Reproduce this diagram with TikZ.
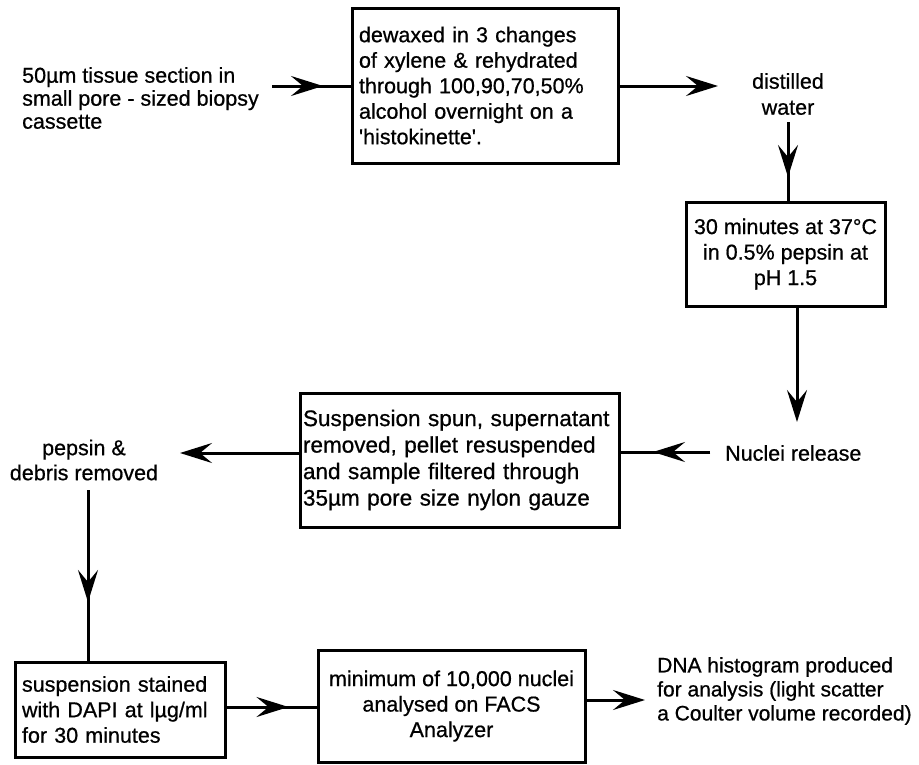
\documentclass[tikz,border=0pt]{standalone}
\usepackage{fontspec}
\setmainfont{Liberation Sans}[Ligatures=TeXOff, FakeBold=0.7]
\usetikzlibrary{arrows.meta,calc}
\begin{document}
\begin{tikzpicture}[x=1pt,y=-1pt,
  box/.style={draw, line width=3pt, inner sep=0pt, font=\fontsize{21.5}{25.5}\selectfont},
  lbl/.style={inner sep=0pt, font=\fontsize{21.5}{24}\selectfont},
  conn/.style={line width=3pt},
  tip/.style={line width=3pt, -{Stealth[length=32pt,width=20pt,inset=12pt]}}]
\useasboundingbox (0,0) rectangle (919,764);
\fill[white] (0,0) rectangle (919,764);

% boxes
\node[box, minimum width=266pt, minimum height=155pt, text width=252pt, align=left] (b1) at (485,85.5)
  {dewaxed in 3 changes\\of xylene \& rehydrated\\through 100,90,70,50\%\\alcohol overnight on a\\'histokinette'.};
\node[box, minimum width=199pt, minimum height=104pt, align=center] (b2) at (785.5,254)
  {30 minutes at 37°C\\in 0.5\% pepsin at\\pH 1.5};
\node[box, minimum width=319pt, minimum height=134pt, text width=313pt, align=left,
      font=\fontsize{22.5}{26.5}\selectfont] (b3) at (459.5,460)
  {Suspension spun, supernatant\\removed, pellet resuspended\\and sample filtered through\\35µm pore size nylon gauze};
\node[box, minimum width=210pt, minimum height=95pt, text width=196pt, align=left] (b4) at (120,709.5)
  {suspension stained\\with DAPI at lµg/ml\\for 30 minutes};
\node[box, minimum width=267pt, minimum height=112pt, align=center] (b5) at (451.5,706)
  {minimum of 10,000 nuclei\\analysed on FACS\\Analyzer};

% free labels
\node[lbl, anchor=west, align=left, font=\fontsize{21.5}{23}\selectfont] (t1) at (22,98)
  {50µm tissue section in\\small pore - sized biopsy\\cassette};
\node[lbl, align=center, font=\fontsize{21.5}{26}\selectfont] (t2) at (788,94) {distilled\\water};
\node[lbl, anchor=west] (t3) at (725,453) {Nuclei release};
\node[lbl, align=center, font=\fontsize{21.5}{25}\selectfont] (t4) at (84,460) {pepsin \&\\debris removed};
\node[lbl, anchor=west, align=left, font=\fontsize{21}{24}\selectfont] (t5) at (657,691)
  {DNA histogram produced\\for analysis (light scatter\\a Coulter volume recorded)};

% connectors
\coordinate (a1) at (272,86);
\draw[conn] (a1) -- (a1 -| b1.west);
\draw[tip] (a1) -- ++(51,0);

\coordinate (a2) at (718,86);
\draw[tip] (b1.east |- a2) -- (a2);

\coordinate (a3) at (788,122);
\draw[conn] (a3) -- (a3 |- b2.north);
\draw[tip] (a3) -- ++(0,55);

\coordinate (a4) at (797,422);
\draw[tip] (a4 |- b2.south) -- (a4);

\coordinate (a5) at (710,452);
\draw[conn] (a5) -- (a5 -| b3.east);
\draw[tip] (a5) -- ++(-57,0);

\coordinate (a6) at (180,453);
\draw[tip] (a6 -| b3.west) -- (a6);

\coordinate (a7) at (88,490);
\draw[conn] (a7) -- (a7 |- b4.north);
\draw[tip] (a7) -- ++(0,112);

\coordinate (a8) at (0,707);
\draw[conn] (b4.east |- a8) -- (b5.west |- a8);
\draw[tip] (b4.east |- a8) -- ++(62,0);

\coordinate (a9) at (645,700);
\draw[tip] (b5.east |- a9) -- (a9);
\end{tikzpicture}
\end{document}
